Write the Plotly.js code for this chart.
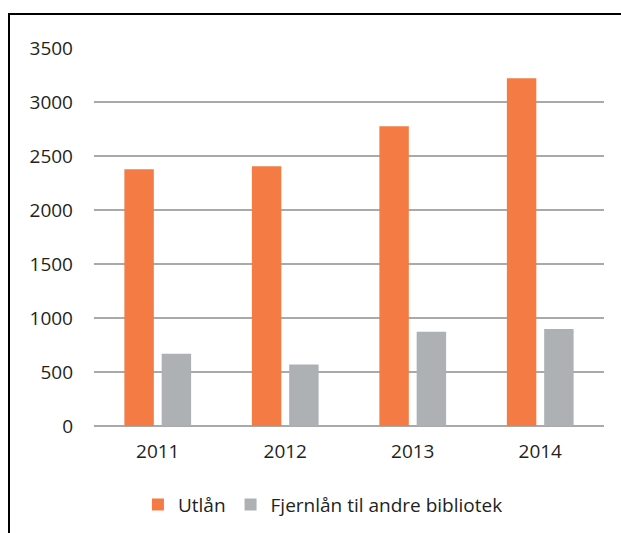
<!DOCTYPE html>
<html>
<head>
<meta charset="utf-8">
<script src="https://cdn.plot.ly/plotly-3.0.1.min.js"></script>
<style>
  body { margin: 0; background: #fff; }
  #graph { position: absolute; left: 0; top: 0; width: 621px; height: 533px; }
  #frame { position: absolute; left: 8px; top: 13px; width: 700px; height: 600px;
           border-left: 2px solid #000; border-top: 2px solid #000; pointer-events: none; }
</style>
</head>
<body>
<div id="graph"></div>
<div id="frame"></div>
<script>
const years = ['2011', '2012', '2013', '2014']
const utlan = [2378, 2405, 2775, 3220]
const fjernlan = [668, 570, 872, 897]

const traces = [
    {
        x: years,
        y: utlan,
        name: 'Utlån',
        type: 'bar',
        marker: { color: '#f47c44' },
    },
    {
        x: years,
        y: fjernlan,
        name: 'Fjernlån til andre bibliotek',
        type: 'bar',
        marker: { color: '#aeb1b4' },
    }
]

const layout = {
    width: 621,
    height: 533,
    margin: { l: 94, r: 17, t: 48, b: 107 },
    paper_bgcolor: '#fff',
    plot_bgcolor: '#fff',
    font: { family: 'Open Sans, sans-serif', size: 19, color: '#231f20' },
    barmode: 'group',
    bargap: 0.415,
    bargroupgap: 0.21,
    xaxis: {
        type: 'category',
        showline: false,
        ticks: '',
        ticklabelstandoff: 12,
        automargin: false,
    },
    yaxis: {
        range: [0, 3500],
        dtick: 500,
        showgrid: true,
        gridcolor: '#a9a9a9',
        gridwidth: 2,
        zeroline: true,
        zerolinecolor: '#a9a9a9',
        zerolinewidth: 2,
        ticks: '',
        ticklabelstandoff: 20,
        automargin: false,
    },
    legend: {
        orientation: 'h',
        xref: 'container',
        yref: 'container',
        x: 0.52,
        xanchor: 'center',
        y: 0.053,
        yanchor: 'middle',
        itemclick: false,
    },
    showlegend: true,
}

Plotly.newPlot('graph', traces, layout, { staticPlot: true })
</script>
</body>
</html>
